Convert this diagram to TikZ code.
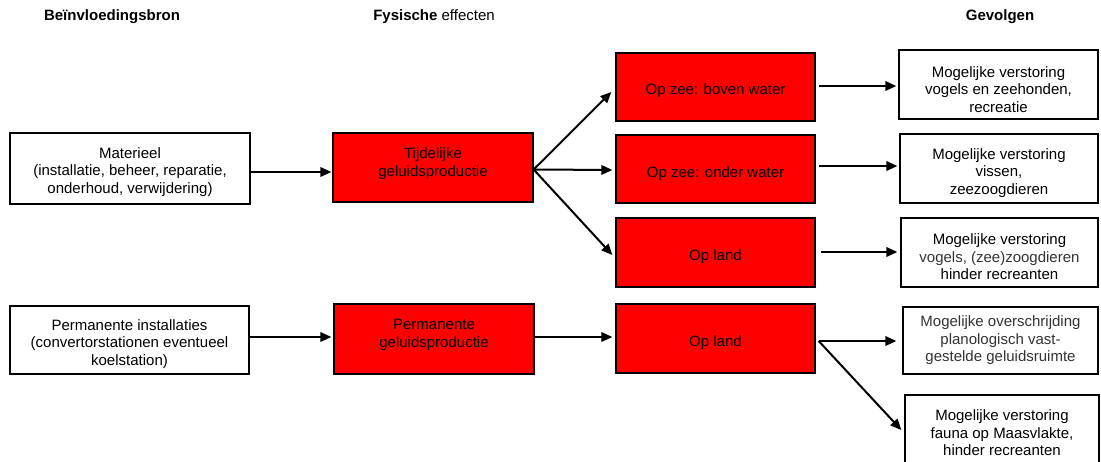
\documentclass[tikz,border=0pt]{standalone}
\usepackage{fontspec}
\setmainfont{Liberation Sans}
\usetikzlibrary{arrows.meta,calc}
\definecolor{boxred}{HTML}{FF0000}
\definecolor{greytxt}{HTML}{333333}
\begin{document}
\begin{tikzpicture}[x=1pt,y=-1pt,
  wbox/.style={draw=black, line width=1.3pt, fill=white, inner sep=0pt},
  rbox/.style={wbox, fill=boxred},
  txt/.style={align=center, font=\fontsize{15}{17.5}\selectfont, inner sep=0pt},
  head/.style={font=\fontsize{15}{17.5}\selectfont\bfseries, inner sep=0pt},
  arr/.style={line width=2pt, -{Triangle[length=11pt,width=9.5pt]}}]
\useasboundingbox (0,0) rectangle (1101,462);

% headings
\node[head] (h1) at (112,17) {Beïnvloedingsbron};
\node[head] (h2) at (434,17) {Fysische {\mdseries effecten}};
\node[head] (h3) at (1000,17) {Gevolgen};

% sources
\node[wbox, minimum width=240pt, minimum height=71pt] (mat) at (130,168.5) {};
\node[txt] (matt) at ($(mat.center)+(0,3.5)$) {Materieel\\(installatie, beheer, reparatie,\\onderhoud, verwijdering)};
\node[wbox, minimum width=239pt, minimum height=68pt] (perm) at (129.5,340) {};
\node[txt] (permt) at ($(perm.center)+(0,4)$) {Permanente installaties\\(convertorstationen eventueel\\koelstation)};

% physical effects
\node[rbox, minimum width=200pt, minimum height=69pt] (tij) at (433,167.5) {};
\node[txt] (tijt) at ($(tij.center)+(0,-4)$) {Tijdelijke\\geluidsproductie};
\node[rbox, minimum width=200pt, minimum height=70pt] (pgel) at (434,339) {};
\node[txt] (pgelt) at ($(pgel.center)+(0,-4)$) {Permanente\\geluidsproductie};

\node[rbox, minimum width=199pt, minimum height=68pt] (zb) at (715.5,87) {};
\node[txt] (zbt) at ($(zb.center)+(0,3.5)$) {Op zee: boven water};
\node[rbox, minimum width=199pt, minimum height=68pt] (zo) at (715.5,169) {};
\node[txt] (zot) at ($(zo.center)+(0,4.5)$) {Op zee: onder water};
\node[rbox, minimum width=199pt, minimum height=69pt] (l1) at (715.5,252.5) {};
\node[txt] (l1t) at ($(l1.center)+(0,4.5)$) {Op land};
\node[rbox, minimum width=199pt, minimum height=69pt] (l2) at (715.5,338.5) {};
\node[txt] (l2t) at ($(l2.center)+(0,4.5)$) {Op land};

% consequences
\node[wbox, minimum width=199pt, minimum height=69pt] (g1) at (998.5,84.5) {};
\node[txt] (g1t) at ($(g1.center)+(0,5)$) {Mogelijke verstoring\\vogels en zeehonden,\\recreatie};
\node[wbox, minimum width=198pt, minimum height=69pt] (g2) at (999,168.5) {};
\node[txt] (g2t) at ($(g2.center)+(0,4.5)$) {Mogelijke verstoring\\vissen,\\zeezoogdieren};
\node[wbox, minimum width=197pt, minimum height=69pt] (g3) at (999.5,252.5) {};
\node[txt] (g3t) at ($(g3.center)+(0,4.5)$) {Mogelijke verstoring\\\textcolor{greytxt}{vogels, (zee)zoogdieren}\\hinder recreanten};
\node[wbox, minimum width=195pt, minimum height=67pt] (g4) at (1000.5,340.5) {};
\node[txt, text=greytxt] (g4t) at ($(g4.center)+(0,0)$) {Mogelijke overschrijding\\planologisch vast-\\gestelde geluidsruimte};
\node[wbox, minimum width=194pt, minimum height=75pt] (g5) at (1002,432.5) {};
\node[txt] (g5t) at ($(g5.center)+(0,0.5)$) {Mogelijke verstoring\\fauna op Maasvlakte,\\hinder recreanten};

% connectors
\draw[arr] ($(mat.east)+(0,3.5)$) -- ($(tij.west)+(-1,4.5)$);
\draw[arr] ($(perm.east)+(0,-3)$) -- ($(pgel.west)+(-2,-2)$);

\coordinate (tfan) at ($(tij.east)+(0,2)$);
\draw[arr] (tfan) -- ($(zb.west)+(-4,5)$);
\draw[arr] (tfan) -- ($(zo.west)+(-3,1)$);
\draw[arr] (tfan) -- ($(l1.west)+(-3,2.5)$);
\draw[arr] ($(pgel.east)+(0,-2)$) -- ($(l2.west)+(-3,-1.5)$);

\draw[arr] ($(zb.east)+(3,-1)$) -- ($(g1.west)+(-2,1.5)$);
\draw[arr] ($(zo.east)+(3,-3)$) -- ($(g2.west)+(-2,-2.5)$);
\draw[arr] ($(l1.east)+(5,-0.5)$) -- ($(g3.west)+(-3,-0.5)$);

\coordinate (l2o) at ($(l2.east)+(3,2.5)$);
\draw[arr] (l2o) -- ($(g4.west)+(-6,0.5)$);
\draw[arr] (l2o) -- ($(g5.west)+(-3,-2.5)$);
\end{tikzpicture}
\end{document}
